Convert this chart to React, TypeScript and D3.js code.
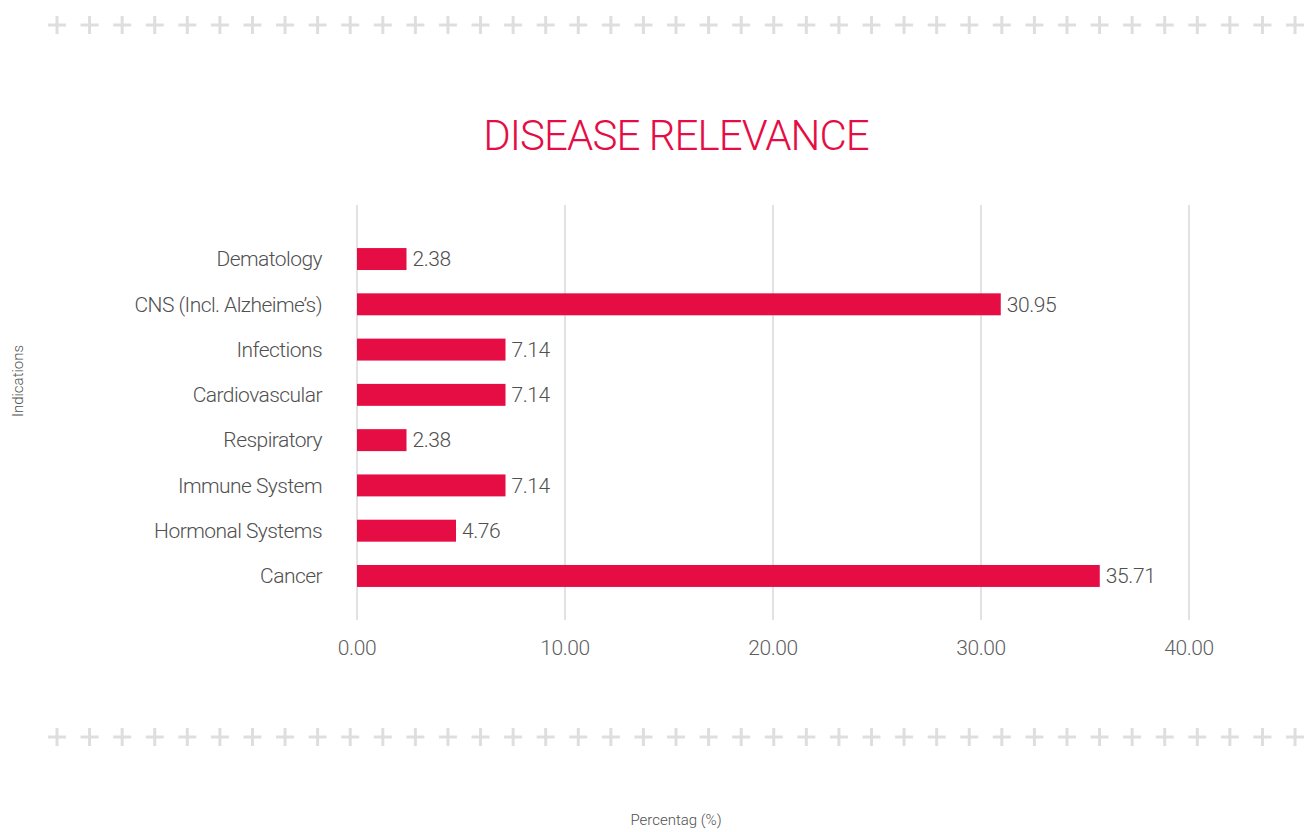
import React from "react";
import * as d3 from "d3";

const categories = [
  "Dematology",
  "CNS (Incl. Alzheime\u2019s)",
  "Infections",
  "Cardiovascular",
  "Respiratory",
  "Immune System",
  "Hormonal Systems",
  "Cancer",
];
const values = [2.38, 30.95, 7.14, 7.14, 2.38, 7.14, 4.76, 35.71];
const xTicks = [0, 10, 20, 30, 40];
const title = "DISEASE RELEVANCE";
const xAxisTitle = "Percentag (%)";
const yAxisTitle = "Indications";

const W = 1311;
const H = 832;
const RED = "#e50d44";
const FONT = "Roboto, 'Open Sans', sans-serif";

export default function App() {
  const x = d3.scaleLinear().domain([0, 40]).range([357, 1189]);
  const y = d3
    .scaleBand<string>()
    .domain(categories)
    .range([236.4, 598.6])
    .paddingInner(0.515)
    .paddingOuter(0.2575);
  const plusXs = d3.range(39).map((i) => 57 + i * 32.58);
  const plus = (cx: number, cy: number, k: string) => (
    <g key={k} stroke="#dedede" strokeWidth={3}>
      <line x1={cx - 9} x2={cx + 9} y1={cy} y2={cy} />
      <line x1={cx} x2={cx} y1={cy - 9} y2={cy + 9} />
    </g>
  );
  return (
    <svg
      width={W}
      height={H}
      style={{ position: "absolute", left: 0, top: 0, background: "#fff" }}
      fontFamily={FONT}
    >
      {plusXs.map((px, i) => plus(px, 25, "t" + i))}
      {plusXs.map((px, i) => plus(px, 737, "b" + i))}
      <text
        x={676}
        y={150}
        textAnchor="middle"
        fill={RED}
        fontSize={42}
        fontWeight={300}
        letterSpacing={-0.9}
      >
        {title}
      </text>
      {xTicks.map((t) => (
        <g key={t}>
          <line
            x1={x(t)}
            x2={x(t)}
            y1={205}
            y2={620}
            stroke="#e2e2e2"
            strokeWidth={2}
          />
          <text
            x={x(t)}
            y={655}
            textAnchor="middle"
            fill="#5f5f5f"
            fontSize={21}
            fontWeight={300}
            letterSpacing={-0.4}
          >
            {t.toFixed(2)}
          </text>
        </g>
      ))}
      {categories.map((c, i) => {
        const yc = (y(c) as number) + y.bandwidth() / 2;
        return (
          <g key={c}>
            <rect
              x={x(0)}
              y={y(c)}
              width={x(values[i]) - x(0)}
              height={y.bandwidth()}
              fill={RED}
            />
            <text
              x={322}
              y={yc}
              dy="0.35em"
              textAnchor="end"
              fill="#505050"
              fontSize={21}
              fontWeight={300}
              letterSpacing={-0.55}
            >
              {c}
            </text>
            <text
              x={x(values[i]) + 6}
              y={yc}
              dy="0.35em"
              fill="#505050"
              fontSize={21}
              fontWeight={300}
              letterSpacing={-0.4}
            >
              {values[i].toFixed(2)}
            </text>
          </g>
        );
      })}
      <text
        transform={`translate(23,381) rotate(-90)`}
        textAnchor="middle"
        fill="#505050"
        fontSize={15}
        fontWeight={300}
      >
        {yAxisTitle}
      </text>
      <text
        x={676}
        y={825}
        textAnchor="middle"
        fill="#505050"
        fontSize={15}
        fontWeight={300}
      >
        {xAxisTitle}
      </text>
    </svg>
  );
}
